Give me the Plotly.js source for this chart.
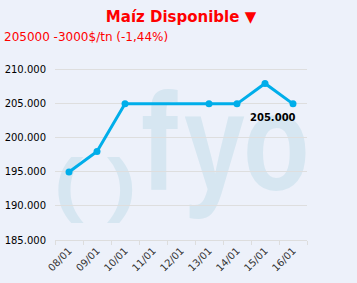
<!DOCTYPE html>
<html>
<head>
<meta charset="utf-8">
<script src="https://cdn.plot.ly/plotly-3.0.1.min.js"></script>
<style>
html,body{margin:0;padding:0;background:#EDF1FA;}
#wrap{position:relative;width:357px;height:283px;overflow:hidden;}
#wm{position:absolute;left:0;top:0;width:357px;height:283px;z-index:0;}
#chart{position:absolute;left:0;top:0;width:357px;height:283px;z-index:1;}
</style>
</head>
<body>
<div id="wrap">
<svg id="wm" width="357" height="283">
  <g fill="#D6E6F1" font-family="'Liberation Sans', Arial, sans-serif" font-weight="bold">
    <text transform="translate(54,208) scale(1.25,1)" font-size="71">(</text>
    <text transform="translate(107,208) scale(1.25,1)" font-size="71">)</text>
    <text transform="translate(141,190) scale(0.78,1)" font-size="140">f</text>
    <text transform="translate(184,190) scale(0.78,1)" font-size="140">y</text>
    <text transform="translate(243,190) scale(0.78,1)" font-size="140">o</text>
  </g>
</svg>
<div id="chart"></div>
</div>
<script>
var dates = ["08/01","09/01","10/01","11/01","12/01","13/01","14/01","15/01","16/01"];
var prices = [195000, 198000, 205000, null, null, 205000, 205000, 208000, 205000];
var yTicks = [185000, 190000, 195000, 200000, 205000, 210000];
var titleText = "Maíz Disponible ▼";
var subtitleText = "205000 -3000$/tn (-1,44%)";
var lastLabel = "205.000";

var trace = {
  x: dates,
  y: prices,
  type: "scatter",
  mode: "lines+markers",
  connectgaps: true,
  line: {color: "#00AEEA", width: 3},
  marker: {color: "#00AEEA", size: 7},
  hoverinfo: "none"
};

var layout = {
  width: 357,
  height: 283,
  margin: {l: 55, r: 50, t: 63, b: 43},
  paper_bgcolor: "rgba(0,0,0,0)",
  plot_bgcolor: "rgba(0,0,0,0)",
  separators: ",.",
  showlegend: false,
  font: {family: "DejaVu Sans, Verdana, sans-serif", size: 10, color: "#000"},
  title: {
    text: "<b>" + titleText + "</b>",
    font: {family: "DejaVu Sans, Verdana, sans-serif", size: 15, color: "#FF0000"},
    x: 0.5, xanchor: "center", xref: "paper",
    y: 1, yref: "container", yanchor: "top", pad: {t: 11}
  },
  xaxis: {
    type: "category",
    range: [-0.5, dates.length - 0.5],
    tickangle: -45,
    tickson: "boundaries",
    ticks: "outside",
    ticklen: 4,
    tickcolor: "#DDDDDD",
    showline: true,
    linecolor: "#DDDDDD",
    linewidth: 1,
    showgrid: false,
    zeroline: false,
    tickfont: {size: 10, color: "#333"},
    fixedrange: true
  },
  yaxis: {
    range: [185000, 211000],
    tickvals: yTicks,
    tickformat: ",d",
    showgrid: true,
    gridcolor: "#DEDEDE",
    gridwidth: 1,
    zeroline: false,
    ticks: "",
    ticklabelstandoff: 8,
    tickfont: {size: 10, color: "#000"},
    fixedrange: true
  },
  annotations: [
    {
      text: subtitleText,
      xref: "paper", yref: "paper",
      x: -53/252, y: 1 + 26/177,
      xanchor: "left", yanchor: "middle",
      showarrow: false,
      font: {family: "DejaVu Sans, Verdana, sans-serif", size: 12, color: "#FF0000"}
    },
    {
      text: "<b>" + lastLabel + "</b>",
      x: dates[dates.length - 1],
      y: prices[prices.length - 1],
      xref: "x", yref: "y",
      xshift: -20, yshift: -14,
      showarrow: false,
      font: {family: "DejaVu Sans, Verdana, sans-serif", size: 10, color: "#000"}
    }
  ]
};

Plotly.newPlot("chart", [trace], layout, {staticPlot: true, displayModeBar: false});
</script>
</body>
</html>
